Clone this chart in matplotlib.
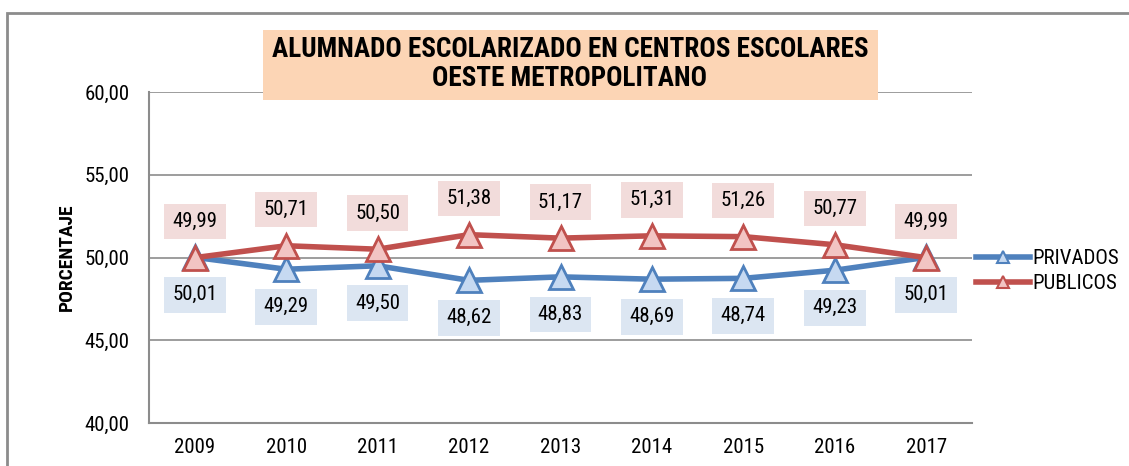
import matplotlib.pyplot as plt
from matplotlib import font_manager
from matplotlib.lines import Line2D
from matplotlib.patches import Rectangle

# pick a condensed sans for the Excel-like look
installed = {f.name for f in font_manager.fontManager.ttflist}
narrow = [n for n in ['Liberation Sans Narrow', 'Arimo Narrow', 'Roboto Condensed',
                      'Archivo Narrow', 'PT Sans Narrow'] if n in installed]
plt.rcParams['font.family'] = narrow[:1] + ['Liberation Sans', 'DejaVu Sans']

years = ['2009', '2010', '2011', '2012', '2013', '2014', '2015', '2016', '2017']
privados = [50.01, 49.29, 49.50, 48.62, 48.83, 48.69, 48.74, 49.23, 50.01]
publicos = [49.99, 50.71, 50.50, 51.38, 51.17, 51.31, 51.26, 50.77, 49.99]

blue, blue_fill, blue_box = '#4F81BD', '#C6D9F1', '#DCE6F2'
red, red_fill, red_box = '#C0504D', '#F2C4C3', '#F2DCDB'

W, H = 1129, 466
fig = plt.figure(figsize=(W / 100, H / 100), dpi=100)
ax = fig.add_axes([149 / W, 1 - 423 / H, 823 / W, 331 / H])

# outer chart frame
fig.patches.append(Rectangle((7 / W, -0.05), 1.2, 1 - 13 / H + 0.05,
                             transform=fig.transFigure, fill=False,
                             edgecolor='#8C8C8C', linewidth=2))

x = range(len(years))
ax.plot(x, privados, color=blue, lw=4, marker='^', ms=17, mfc=blue_fill,
        mec=blue, mew=2, solid_capstyle='round', zorder=3)
ax.plot(x, publicos, color=red, lw=4, marker='^', ms=17, mfc=red_fill,
        mec=red, mew=2, solid_capstyle='round', zorder=4)

for i, (a, b) in enumerate(zip(privados, publicos)):
    ax.annotate(f'{a:.2f}'.replace('.', ','), (i, a), xytext=(0, -27),
                textcoords='offset points', ha='center', va='center', fontsize=15,
                bbox=dict(boxstyle='square,pad=0.4', fc=blue_box, ec='none'), zorder=5)
    ax.annotate(f'{b:.2f}'.replace('.', ','), (i, b), xytext=(0, 26),
                textcoords='offset points', ha='center', va='center', fontsize=15,
                bbox=dict(boxstyle='square,pad=0.4', fc=red_box, ec='none'), zorder=5)

ax.set_xlim(-0.5, len(years) - 0.5)
ax.set_ylim(40, 60)
ax.set_yticks([40, 45, 50, 55, 60])
ax.set_yticklabels([f'{v:.2f}'.replace('.', ',') for v in [40, 45, 50, 55, 60]])
ax.set_xticks(list(x))
ax.set_xticklabels(years)
ax.tick_params(labelsize=15, length=0, pad=11)
ax.tick_params(axis='y', pad=14)
ax.grid(axis='y', color='#8C8C8C', lw=1.2)
ax.set_axisbelow(True)
for s in ['top', 'right']:
    ax.spines[s].set_visible(False)
for s in ['left', 'bottom']:
    ax.spines[s].set_color('#8C8C8C')
    ax.spines[s].set_linewidth(1.5)

ax.set_ylabel('PORCENTAJE', fontsize=14, fontweight='bold', labelpad=6)

# title on a peach panel
fig.patches.append(Rectangle((263 / W, 1 - 100 / H), 615 / W, 70 / H,
                             transform=fig.transFigure, fc='#FCD5B5', ec='none', zorder=10))
fig.text(570 / W, 1 - 64 / H,
         'ALUMNADO ESCOLARIZADO EN CENTROS ESCOLARES\nOESTE METROPOLITANO',
         ha='center', va='center', fontsize=19.5, fontweight='bold', linespacing=1.1,
         zorder=11)

handles = [Line2D([], [], color=blue, lw=4, marker='^', ms=9, mfc=blue_fill, mec=blue, mew=1.5),
           Line2D([], [], color=red, lw=4, marker='^', ms=9, mfc=red_fill, mec=red, mew=1.5)]
fig.legend(handles, ['PRIVADOS', 'PUBLICOS'], loc='center left',
           bbox_to_anchor=(976 / W, 1 - 271 / H), frameon=False, fontsize=15,
           handlelength=2.6, handletextpad=0.1, labelspacing=0.3, borderpad=0,
           borderaxespad=0)

fig.savefig('out.png', dpi=100)
